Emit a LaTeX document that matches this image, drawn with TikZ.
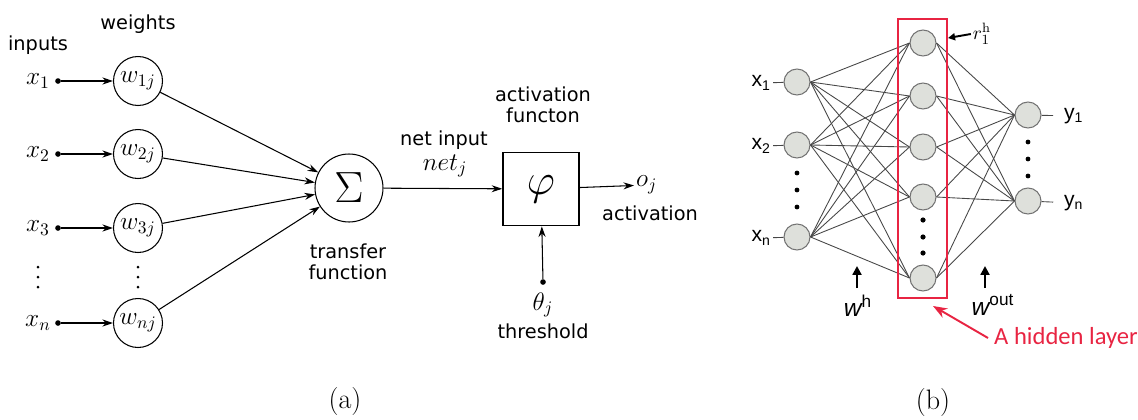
\documentclass[tikz,border=0pt]{standalone}
\usepackage{fontspec}
\setsansfont{DejaVu Sans}
\newfontfamily\arialf{Liberation Sans}
\newfontfamily\calf{Carlito}
\usetikzlibrary{arrows.meta}
\definecolor{hidred}{RGB}{232,36,66}
\definecolor{nodegray}{RGB}{222,224,219}
\tikzset{
  lbl/.style={font=\sffamily\fontsize{11}{12}\selectfont, align=center, inner sep=1pt},
  mth/.style={font=\fontsize{14}{16}\selectfont, inner sep=1pt},
  wcirc/.style={draw, circle, minimum size=0.98cm, inner sep=0pt, line width=0.6pt, font=\fontsize{14}{16}\selectfont},
  dotn/.style={fill, circle, minimum size=3.2pt, inner sep=0pt},
  arr/.style={-{Stealth[length=6pt,width=4pt]}, line width=0.6pt},
  neuron/.style={draw=black!55, fill=nodegray, circle, minimum size=0.52cm, inner sep=0pt, line width=0.6pt},
  link/.style={draw=black!72, line width=0.5pt},
  blbl/.style={font=\arialf\fontsize{12}{14}\selectfont, inner sep=1pt},
  fatarrow/.style={-{Triangle[length=5pt,width=5pt]}, line width=1.4pt},
}
\begin{document}
\begin{tikzpicture}[x=0.02cm,y=-0.02cm]
    \useasboundingbox (0,0) rectangle (1138,419);
    % (a) single neuron
    \node[lbl] at (38,45) {inputs};
    \node[lbl] at (138,24) {weights};
    \node[mth] (x1) at (38,81) {$x_1$};
    \node[mth] (x2) at (38,154) {$x_2$};
    \node[mth] (x3) at (38,228) {$x_3$};
    \node[mth] (xn) at (38,323) {$x_n$};
    \node[dotn] (d1) at (58,81) {};
    \node[dotn] (d2) at (58,154) {};
    \node[dotn] (d3) at (58,228) {};
    \node[dotn] (dn) at (58,323) {};
    \node[wcirc] (w1) at (138,81) {$w_{1j}$};
    \node[wcirc] (w2) at (138,154) {$w_{2j}$};
    \node[wcirc] (w3) at (138,228) {$w_{3j}$};
    \node[wcirc] (wn) at (138,323) {$w_{nj}$};
    \foreach \y in {267,277,287} {
        \fill (38,\y) circle (1.5);
        \fill (138,\y) circle (1.5);
    }
    \node[draw, circle, minimum size=1.36cm, inner sep=0pt, line width=0.6pt,
          font=\fontsize{26}{28}\selectfont] (sum) at (349,188) {$\Sigma$};
    \node[draw, minimum width=1.52cm, minimum height=1.46cm, line width=1pt,
          font=\fontsize{28}{30}\selectfont] (phi) at (541,189) {$\varphi$};
    \node[lbl] at (348,262) {transfer\\function};
    \node[lbl] at (543,105) {activation\\functon};
    \node[lbl] at (444,140) {net input};
    \node[mth] at (445,166) {$net_j$};
    \node[mth, anchor=west] (oj) at (634,185) {$o_j$};
    \node[lbl] at (650,213) {activation};
    \node[dotn] (dt) at (543,282) {};
    \node[mth] (th) at (543,305) {$\theta_j$};
    \node[lbl] at (543,331) {threshold};
    \draw[arr] (d1) -- (w1);
    \draw[arr] (d2) -- (w2);
    \draw[arr] (d3) -- (w3);
    \draw[arr] (dn) -- (wn);
    \draw[arr] (w1) -- (sum);
    \draw[arr] (w2) -- (sum);
    \draw[arr] (w3) -- (sum);
    \draw[arr] (wn) -- (sum);
    \draw[arr] (sum) -- (phi);
    \draw[arr] (phi) -- (oj);
    \draw[arr] (dt) -- (phi);
    \node[font=\fontsize{16}{18}\selectfont] at (345,401) {(a)};
    % (b) network with one hidden layer
    \node[neuron] (i1) at (797,82) {};
    \node[neuron] (i2) at (797,145) {};
    \node[neuron] (i3) at (797,237) {};
    \node[neuron] (h1) at (923,43) {};
    \node[neuron] (h2) at (923,96) {};
    \node[neuron] (h3) at (923,147) {};
    \node[neuron] (h4) at (923,197) {};
    \node[neuron] (h5) at (923,278) {};
    \node[neuron] (o1) at (1028,115) {};
    \node[neuron] (o2) at (1028,201) {};
    \foreach \i in {i1,i2,i3}
        \foreach \h in {h1,h2,h3,h4,h5}
            \draw[link] (\i.east) -- (\h.west);
    \foreach \h in {h1,h2,h3,h4,h5}
        \foreach \o in {o1,o2}
            \draw[link] (\h.east) -- (\o.west);
    \foreach \y in {173,190,207} \fill (797,\y) circle (2.4);
    \foreach \y in {220,237,253} \fill (923,\y) circle (2.6);
    \foreach \y in {142,159,176} \fill (1028,\y) circle (2.4);
    \node[blbl, anchor=east] (lx1) at (773,83) {x\textsubscript{1}};
    \node[blbl, anchor=east] (lx2) at (773,146) {x\textsubscript{2}};
    \node[blbl, anchor=east] (lxn) at (773,238) {x\textsubscript{n}};
    \draw[link] (lx1) -- (i1);
    \draw[link] (lx2) -- (i2);
    \draw[link] (lxn) -- (i3);
    \node[blbl, anchor=west] (ly1) at (1062,116) {y\textsubscript{1}};
    \node[blbl, anchor=west] (lyn) at (1062,203) {y\textsubscript{n}};
    \draw[link, shorten >=5pt] (o1) -- (ly1);
    \draw[link, shorten >=5pt] (o2) -- (lyn);
    \node[draw=hidred, line width=1.2pt, minimum width=0.98cm, minimum height=5.58cm,
          inner sep=0pt] (hbox) at (922.5,158.5) {};
    \node[font=\fontsize{11}{12}\selectfont, inner sep=1pt] (rl) at (982,34) {$r^{\mathrm{h}}_{1}$};
    \coordinate (ra) at (948,38);
    \draw[-{Triangle[length=4pt,width=4pt]}, line width=1.1pt] (rl.west) -- (ra);
    \node[blbl, font=\arialf\fontsize{14}{16}\selectfont] (wh) at (858,306) {{\itshape w}\textsuperscript{h}};
    \coordinate (whb) at (857,288);
    \coordinate (wht) at (857,266);
    \draw[fatarrow] (whb) -- (wht);
    \node[blbl, font=\arialf\fontsize{14}{16}\selectfont] (wo) at (993,305) {{\itshape w}\textsuperscript{out}};
    \coordinate (wob) at (985,288);
    \coordinate (wot) at (985,266);
    \draw[fatarrow] (wob) -- (wot);
    \node[font=\calf\fontsize{14}{16}\selectfont, text=hidred] (hl) at (1066,338) {A hidden layer};
    \coordinate (hla) at (933,306);
    \draw[-{Stealth[length=8pt,width=6pt]}, hidred, line width=1.1pt] (hl.west) -- (hla);
    \node[font=\fontsize{16}{18}\selectfont] at (933,402) {(b)};
\end{tikzpicture}
\end{document}
